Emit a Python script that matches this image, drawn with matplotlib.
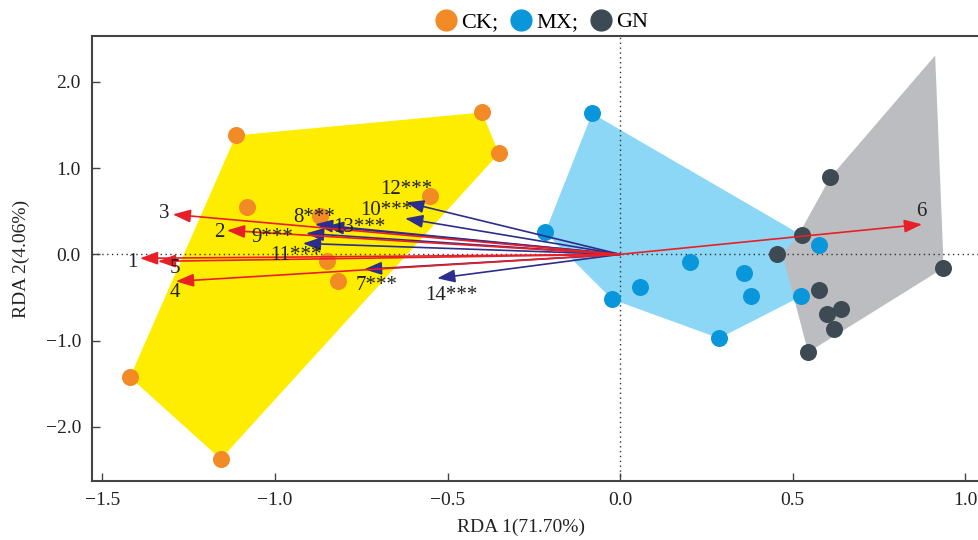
import matplotlib
matplotlib.use("Agg")
import matplotlib.pyplot as plt
from matplotlib.ticker import FuncFormatter
from matplotlib.lines import Line2D
import numpy as np

plt.rcParams['font.family'] = ['Liberation Serif', 'DejaVu Serif']

# sample scores
ck_x = [-1.113, -0.400, -0.351, -1.081, -0.551, -0.870, -0.849, -0.817, -1.420, -1.157]
ck_y = [1.379, 1.645, 1.170, 0.545, 0.672, 0.450, -0.081, -0.313, -1.425, -2.375]
mx_x = [-0.081, -0.217, -0.023, 0.058, 0.203, 0.359, 0.380, 0.287, 0.525, 0.577]
mx_y = [1.634, 0.255, -0.522, -0.382, -0.093, -0.220, -0.487, -0.973, -0.487, 0.104]
gn_x = [0.609, 0.527, 0.455, 0.936, 0.577, 0.641, 0.600, 0.620, 0.545]
gn_y = [0.892, 0.220, 0.000, -0.162, -0.417, -0.637, -0.695, -0.869, -1.136]

# outline of the GN envelope as drawn
gn_outline_x = [0.913, 0.936, 0.936, 0.545, 0.470, 0.513, 0.609]
gn_outline_y = [2.306, 0.010, -0.162, -1.136, 0.010, 0.197, 0.892]

# environment arrows (tips) and labels
red_names = ['1', '5', '3', '2', '4', '6']
red_x = [-1.391, -1.339, -1.296, -1.139, -1.287, 0.875]
red_y = [-0.046, -0.081, 0.463, 0.278, -0.313, 0.348]
red_lx = [-1.412, -1.290, -1.322, -1.162, -1.290, 0.872]
red_ly = [-0.093, -0.162, 0.475, 0.255, -0.440, 0.498]

blue_names = ['7***', '8***', '9***', '10***', '11***', '12***', '13***', '14***']
blue_x = [-0.742, -0.884, -0.910, -0.623, -0.919, -0.620, -0.852, -0.530]
blue_y = [-0.174, 0.348, 0.243, 0.417, 0.127, 0.603, 0.325, -0.278]
blue_lx = [-0.704, -0.887, -1.009, -0.678, -0.939, -0.620, -0.754, -0.490]
blue_ly = [-0.359, 0.429, 0.190, 0.510, -0.015, 0.753, 0.313, -0.475]


def hull(xs, ys):
  pts = sorted(zip(xs, ys))
  def cross(o, a, b):
    return (a[0]-o[0])*(b[1]-o[1]) - (a[1]-o[1])*(b[0]-o[0])
  lower, upper = [], []
  for p in pts:
    while len(lower) >= 2 and cross(lower[-2], lower[-1], p) <= 0:
      lower.pop()
    lower.append(p)
  for p in reversed(pts):
    while len(upper) >= 2 and cross(upper[-2], upper[-1], p) <= 0:
      upper.pop()
    upper.append(p)
  return np.array(lower[:-1] + upper[:-1])


fig = plt.figure(figsize=(9.79, 5.40), dpi=100)
ax = fig.add_axes([0.094, 0.109, 0.906, 0.824])

ax.fill(*hull(ck_x, ck_y).T, color='#FFED00', lw=0, zorder=1)
ax.fill(*hull(mx_x, mx_y).T, color='#8BD7F5', lw=0, zorder=1)
ax.fill(gn_outline_x, gn_outline_y, color='#BCBDC0', lw=0, zorder=1)

ax.axhline(0, color='#333333', ls=(0, (1, 2.5)), lw=1, zorder=2)
ax.axvline(0, color='#333333', ls=(0, (1, 2.5)), lw=1, zorder=2)

ax.scatter(ck_x, ck_y, s=150, color='#F28A25', lw=0, zorder=3)
ax.scatter(mx_x, mx_y, s=150, color='#0A96DB', lw=0, zorder=3)
ax.scatter(gn_x, gn_y, s=150, color='#3E4A53', lw=0, zorder=3)

head = '-|>,head_length=0.9,head_width=0.33'
for x, y in zip(blue_x, blue_y):
  ax.annotate('', xy=(x, y), xytext=(0, 0),
              arrowprops=dict(arrowstyle=head, color='#2B2E8C', lw=1.2,
                              shrinkA=0, shrinkB=0, mutation_scale=12), zorder=4)
for x, y in zip(red_x, red_y):
  ax.annotate('', xy=(x, y), xytext=(0, 0),
              arrowprops=dict(arrowstyle=head, color='#E81F27', lw=1.2,
                              shrinkA=0, shrinkB=0, mutation_scale=12), zorder=4)

for name, x, y in zip(red_names, red_lx, red_ly):
  ax.text(x, y, name, fontsize=15, color='#222222', ha='center', va='center', zorder=5)
for name, x, y in zip(blue_names, blue_lx, blue_ly):
  ax.text(x, y, name, fontsize=15, color='#222222', ha='center', va='center', zorder=5)

ax.set_xlim(-1.53, 1.04)
ax.set_ylim(-2.63, 2.53)
ax.set_xticks([-1.5, -1.0, -0.5, 0.0, 0.5, 1.0])
ax.set_yticks([-2.0, -1.0, 0.0, 1.0, 2.0])
fmt = FuncFormatter(lambda v, p: ('%.1f' % (0.0 if abs(v) < 1e-9 else v)).replace('-', '\u2212'))
ax.xaxis.set_major_formatter(fmt)
ax.yaxis.set_major_formatter(fmt)
ax.tick_params(direction='in', length=6, width=1, colors='#444444', labelcolor='#222222',
               labelsize=14, pad=8)
for s in ['left', 'bottom', 'top']:
  ax.spines[s].set_linewidth(1.5)
  ax.spines[s].set_color('#444444')
ax.spines['right'].set_visible(False)

ax.set_xlabel('RDA 1(71.70%)', fontsize=14, color='#222222')
ax.set_ylabel('RDA 2(4.06%)', fontsize=14, color='#222222')
ax.xaxis.set_label_coords(0.484, -0.085)
ax.yaxis.set_label_coords(-0.07, 0.5)

handles = [Line2D([], [], ls='', marker='o', markersize=15, color=c)
           for c in ['#F28A25', '#0A96DB', '#3E4A53']]
fig.legend(handles, ['CK;', 'MX;', 'GN'], loc='upper center', bbox_to_anchor=(0.553, 1.015),
           ncol=3, frameon=False, fontsize=16, handletextpad=0.2, columnspacing=0.5,
           handlelength=1.0)

fig.savefig('out.png', dpi=100)
